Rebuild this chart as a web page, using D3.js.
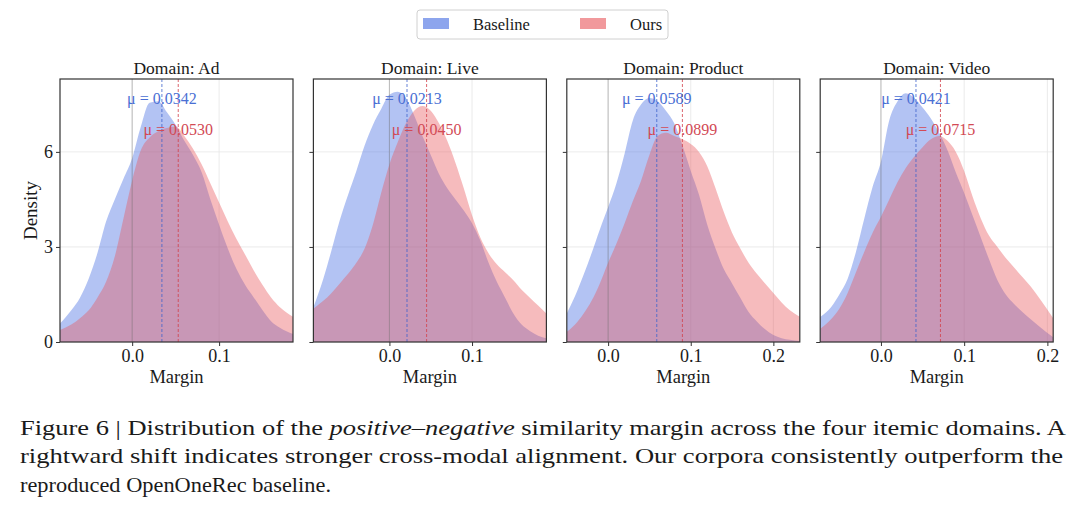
<!DOCTYPE html>
<html>
<head>
<meta charset="utf-8">
<title>Margin distribution</title>
<style>
  body { margin: 0; background: #fff; }
  text { font-family: "Liberation Serif", "Times New Roman", serif; fill: #1a1a1a; }
  .grid line { stroke: #e6e6e6; stroke-width: 0.8; }
  .tick line { stroke: #333; }
  .domain { display: none; }
</style>
</head>
<body>
<svg id="chart" width="1080" height="506"></svg>
<script src="https://d3js.org/d3.v7.min.js"></script>
<script>
// data (KDE of the positive-negative margin)
const domains = ["Ad", "Live", "Product", "Video"];
const baselineMeans = [0.0342, 0.0213, 0.0589, 0.0421];
const oursMeans = [0.0530, 0.0450, 0.0899, 0.0715];
const xLimits = [[-0.083, 0.185], [-0.092, 0.19], [-0.05, 0.232], [-0.073, 0.207]];
const xTickValues = [[0, 0.1], [0, 0.1], [0, 0.1, 0.2], [0, 0.1, 0.2]];
const yTickValues = [0, 3, 6];

const adMargin = [-0.083, -0.07, -0.06, -0.05, -0.04, -0.03, -0.02, -0.01, 0, 0.01, 0.02, 0.03, 0.04, 0.05, 0.06, 0.07, 0.08, 0.09, 0.1, 0.11, 0.12, 0.13, 0.14, 0.15, 0.16, 0.17, 0.185];
const adBaseline = [0.58, 1.0, 1.4, 2.0, 2.8, 3.8, 4.5, 5.15, 5.8, 6.8, 7.55, 7.6, 7.25, 6.85, 6.35, 5.9, 5.35, 4.5, 3.7, 2.95, 2.3, 1.8, 1.4, 1.0, 0.65, 0.45, 0.25];
const adOurs = [0.38, 0.55, 0.75, 1.0, 1.4, 1.9, 2.7, 3.9, 5.1, 6.05, 6.45, 6.65, 6.75, 6.8, 6.5, 6.1, 5.6, 5.0, 4.4, 3.8, 3.25, 2.75, 2.25, 1.8, 1.4, 1.1, 0.8];

const liveMargin = [-0.092, -0.08, -0.07, -0.06, -0.05, -0.04, -0.03, -0.02, -0.01, 0, 0.01, 0.02, 0.03, 0.04, 0.05, 0.06, 0.07, 0.08, 0.09, 0.1, 0.11, 0.12, 0.13, 0.14, 0.15, 0.16, 0.17, 0.18, 0.19];
const liveBaseline = [1.1, 2.0, 2.9, 3.85, 4.65, 5.4, 6.2, 6.85, 7.35, 7.8, 7.9, 7.7, 7.15, 6.5, 5.9, 5.3, 4.85, 4.5, 4.15, 3.75, 3.2, 2.5, 1.9, 1.4, 0.9, 0.55, 0.35, 0.2, 0.12];
const liveOurs = [1.05, 1.3, 1.55, 1.85, 2.15, 2.5, 2.95, 3.7, 4.7, 5.6, 6.3, 6.9, 7.3, 7.45, 7.3, 6.9, 6.35, 5.65, 4.85, 4.0, 3.3, 2.8, 2.45, 2.2, 1.95, 1.65, 1.4, 1.15, 0.9];

const productMargin = [-0.05, -0.04, -0.03, -0.02, -0.01, 0, 0.01, 0.02, 0.03, 0.04, 0.05, 0.06, 0.07, 0.08, 0.09, 0.1, 0.11, 0.12, 0.13, 0.14, 0.15, 0.16, 0.17, 0.18, 0.19, 0.2, 0.21, 0.22, 0.232];
const productBaseline = [0.9, 1.45, 2.1, 2.8, 3.55, 4.25, 5.0, 5.95, 7.0, 7.5, 7.7, 7.6, 7.3, 6.9, 6.2, 5.4, 4.65, 3.7, 2.95, 2.3, 1.85, 1.4, 0.95, 0.65, 0.4, 0.22, 0.12, 0.07, 0.03];
const productOurs = [0.32, 0.55, 0.88, 1.3, 1.85, 2.5, 3.1, 3.75, 4.45, 5.1, 5.9, 6.5, 6.6, 6.5, 6.4, 6.25, 6.0, 5.55, 4.85, 4.1, 3.45, 2.95, 2.5, 2.15, 1.85, 1.55, 1.25, 1.0, 0.8];

const videoMargin = [-0.073, -0.06, -0.05, -0.04, -0.03, -0.02, -0.01, 0, 0.01, 0.02, 0.03, 0.04, 0.05, 0.06, 0.07, 0.08, 0.09, 0.1, 0.11, 0.12, 0.13, 0.14, 0.15, 0.16, 0.17, 0.18, 0.19, 0.207];
const videoBaseline = [0.79, 1.1, 1.5, 2.0, 2.85, 3.9, 4.9, 5.7, 7.0, 7.6, 7.85, 7.7, 7.4, 7.05, 6.6, 6.05, 5.35, 4.7, 4.0, 3.3, 2.6, 1.95, 1.5, 1.2, 0.95, 0.72, 0.5, 0.15];
const videoOurs = [0.42, 0.72, 1.05, 1.55, 2.2, 2.85, 3.45, 3.95, 4.5, 5.05, 5.5, 5.85, 6.15, 6.4, 6.5, 6.35, 6.0, 5.4, 4.6, 3.9, 3.35, 3.0, 2.65, 2.35, 2.05, 1.75, 1.4, 0.75];

const margins = [adMargin, liveMargin, productMargin, videoMargin];
const baselineDens = [adBaseline, liveBaseline, productBaseline, videoBaseline];
const oursDens = [adOurs, liveOurs, productOurs, videoOurs];

// layout
const blue = "#4169e1", red = "#e8555a";
const panelLeft = 60, panelStep = 253.4, panelW = 233;
const plotTop = 79, plotBottom = 342;

const svg = d3.select("#chart");

const y = d3.scaleLinear().domain([0, 8.3]).range([plotBottom, plotTop]);

domains.forEach((name, i) => {
  const left = panelLeft + i * panelStep;
  const x = d3.scaleLinear().domain(xLimits[i]).range([left, left + panelW]);
  const g = svg.append("g");

  const clipId = "clip" + i;
  g.append("clipPath").attr("id", clipId)
    .append("rect").attr("x", left).attr("y", plotTop).attr("width", panelW).attr("height", plotBottom - plotTop);

  // grid
  const grid = g.append("g").attr("class", "grid");
  grid.selectAll(".gx").data(xTickValues[i]).enter().append("line")
    .attr("x1", d => x(d)).attr("x2", d => x(d)).attr("y1", plotTop).attr("y2", plotBottom);
  grid.selectAll(".gy").data(yTickValues).enter().append("line")
    .attr("x1", left).attr("x2", left + panelW).attr("y1", d => y(d)).attr("y2", d => y(d));

  const area = d3.area()
    .x(d => x(d[0]))
    .y0(y(0))
    .y1(d => y(d[1]))
    .curve(d3.curveMonotoneX);

  const plot = g.append("g").attr("clip-path", `url(#${clipId})`);
  plot.append("path")
    .datum(d3.zip(margins[i], baselineDens[i]))
    .attr("d", area).attr("fill", blue).attr("fill-opacity", 0.4);
  plot.append("path")
    .datum(d3.zip(margins[i], oursDens[i]))
    .attr("d", area).attr("fill", red).attr("fill-opacity", 0.4);

  // zero reference
  plot.append("line")
    .attr("x1", x(0)).attr("x2", x(0)).attr("y1", plotTop).attr("y2", plotBottom)
    .attr("stroke", "#777").attr("stroke-width", 0.8).attr("stroke-opacity", 0.55);

  // mean lines
  [[baselineMeans[i], "#3f63cc"], [oursMeans[i], "#d2404a"]].forEach(([m, c]) => {
    plot.append("line")
      .attr("x1", x(m)).attr("x2", x(m)).attr("y1", plotTop).attr("y2", plotBottom)
      .attr("stroke", c).attr("stroke-width", 1).attr("stroke-dasharray", "3,2").attr("stroke-opacity", 0.8);
  });

  // axes
  g.append("g")
    .attr("transform", `translate(0,${plotBottom})`)
    .call(d3.axisBottom(x).tickValues(xTickValues[i]).tickFormat(d3.format(".1f")).tickSize(4).tickPadding(3))
    .call(a => a.selectAll("text").style("font-size", "18px").attr("fill", "#1a1a1a"));

  g.append("g")
    .attr("transform", `translate(${left},0)`)
    .call(d3.axisLeft(y).tickValues(yTickValues).tickSize(4).tickPadding(3)
      .tickFormat(i === 0 ? d3.format("d") : () => ""))
    .call(a => a.selectAll("text").style("font-size", "18px").attr("fill", "#1a1a1a"));

  // frame
  g.append("rect")
    .attr("x", left).attr("y", plotTop).attr("width", panelW).attr("height", plotBottom - plotTop)
    .attr("fill", "none").attr("stroke", "#333").attr("stroke-width", 1.2);

  // mean labels
  g.append("text")
    .attr("x", x(baselineMeans[i])).attr("y", y(7.7)).attr("dy", "0.35em")
    .attr("text-anchor", "middle").style("font-size", "16px").style("fill", "#4a6fd4")
    .text("μ = " + baselineMeans[i].toFixed(4));
  g.append("text")
    .attr("x", x(oursMeans[i])).attr("y", y(6.7)).attr("dy", "0.35em")
    .attr("text-anchor", "middle").style("font-size", "16px").style("fill", "#d24a55")
    .text("μ = " + oursMeans[i].toFixed(4));

  // titles
  g.append("text")
    .attr("x", left + panelW / 2).attr("y", 74)
    .attr("text-anchor", "middle").style("font-size", "17.5px")
    .text("Domain: " + name);
  g.append("text")
    .attr("x", left + panelW / 2).attr("y", 383)
    .attr("text-anchor", "middle").style("font-size", "18.5px")
    .text("Margin");
});

svg.append("text")
  .attr("transform", `translate(37,${(plotTop + plotBottom) / 2}) rotate(-90)`)
  .attr("text-anchor", "middle").style("font-size", "19px")
  .text("Density");

// legend
const legend = svg.append("g");
legend.append("rect")
  .attr("x", 417).attr("y", 10).attr("width", 251).attr("height", 29).attr("rx", 3)
  .attr("fill", "#fff").attr("stroke", "#d0d0d0");
const legendItems = [["Baseline", blue, 423], ["Ours", red, 580]];
legendItems.forEach(([label, c, lx]) => {
  legend.append("rect").attr("x", lx).attr("y", 18).attr("width", 26).attr("height", 11)
    .attr("fill", c).attr("fill-opacity", 0.6);
  legend.append("text").attr("x", lx + 50).attr("y", 29.5)
    .style("font-size", "16.5px").text(label);
});

// caption
const caption = svg.append("g").style("font-size", "22px");
const l1 = caption.append("text").attr("x", 20).attr("y", 435)
  .attr("textLength", 1046).attr("lengthAdjust", "spacingAndGlyphs");
l1.append("tspan").text("Figure 6 | Distribution of the ");
l1.append("tspan").style("font-style", "italic").text("positive–negative");
l1.append("tspan").text(" similarity margin across the four itemic domains. A");
caption.append("text").attr("x", 20).attr("y", 463)
  .attr("textLength", 1043).attr("lengthAdjust", "spacingAndGlyphs")
  .text("rightward shift indicates stronger cross-modal alignment. Our corpora consistently outperform the");
caption.append("text").attr("x", 20).attr("y", 492)
  .attr("textLength", 311).attr("lengthAdjust", "spacingAndGlyphs")
  .text("reproduced OpenOneRec baseline.");
</script>
</body>
</html>
